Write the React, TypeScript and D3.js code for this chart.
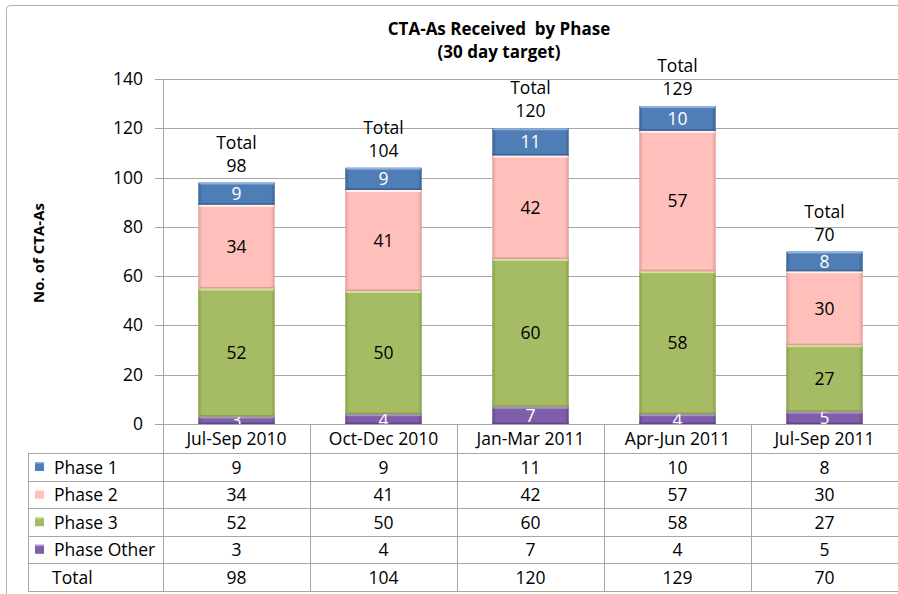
import React from 'react';
import * as d3 from 'd3';

const categories = ['Jul-Sep 2010', 'Oct-Dec 2010', 'Jan-Mar 2011', 'Apr-Jun 2011', 'Jul-Sep 2011'];
const seriesNames = ['Phase 1', 'Phase 2', 'Phase 3', 'Phase Other'];
const phase1 = [9, 9, 11, 10, 8];
const phase2 = [34, 41, 42, 57, 30];
const phase3 = [52, 50, 60, 58, 27];
const phaseOther = [3, 4, 7, 4, 5];
const totals = [98, 104, 120, 129, 70];
const yTicks = [0, 20, 40, 60, 80, 100, 120, 140];

const colors = {
  'Phase 1': { base: '#4f7db5', dark: '#3a6294', light: '#8fb0d8', label: '#ffffff' },
  'Phase 2': { base: '#ffbfba', dark: '#e09c97', light: '#fff4f3', label: '#000000' },
  'Phase 3': { base: '#a6bc64', dark: '#86a04a', light: '#d2e39a', label: '#000000' },
  'Phase Other': { base: '#7f5faa', dark: '#62468c', light: '#a98fd0', label: '#ffffff' },
};

const FONT = '"Open Sans", Lato, sans-serif';
const FS = 17.5;

export default function App() {
  const width = 898;
  const height = 594;
  const left = 163;
  const right = 898;
  const top = 79;
  const bottom = 424;

  const x = d3.scaleBand().domain(categories).range([left, right]).paddingInner(0.48).paddingOuter(0.24);
  const y = d3.scaleLinear().domain([0, 140]).range([bottom, top]);
  const step = x.step();

  // stack from bottom: Phase Other, Phase 3, Phase 2, Phase 1
  const rows = categories.map((c, i) => ({
    cat: c,
    'Phase 1': phase1[i],
    'Phase 2': phase2[i],
    'Phase 3': phase3[i],
    'Phase Other': phaseOther[i],
  }));
  const stack = d3.stack().keys(['Phase Other', 'Phase 3', 'Phase 2', 'Phase 1']);
  const layers = stack(rows as any);

  const tableRows = [
    { name: 'Phase 1', vals: phase1 },
    { name: 'Phase 2', vals: phase2 },
    { name: 'Phase 3', vals: phase3 },
    { name: 'Phase Other', vals: phaseOther },
    { name: 'Total', vals: totals },
  ];
  const headerTop = bottom;
  const headerBottom = 453;
  const rowH = 27.6;
  const tableLeft = 28;
  const tableBottom = headerBottom + rowH * tableRows.length;
  const lineColor = '#a6a6a6';

  return (
    <svg width={width} height={height} style={{ position: 'absolute', left: 0, top: 0, background: '#fff' }}>
      <defs>
        {seriesNames.map((s, k) => (
          <linearGradient key={s} id={`g${k}`} x1="0" x2="1" y1="0" y2="0">
            <stop offset="0" stopColor={colors[s].dark} />
            <stop offset="0.05" stopColor={colors[s].base} />
            <stop offset="0.95" stopColor={colors[s].base} />
            <stop offset="1" stopColor={colors[s].dark} />
          </linearGradient>
        ))}
        <clipPath id="plotClip">
          <rect x={left} y={0} width={right - left} height={bottom} />
        </clipPath>
      </defs>

      {/* outer frame */}
      <rect x={6.5} y={5.5} width={905} height={600} rx={4} fill="#fff" stroke="#b4b4b4" />

      {/* title */}
      <text x={499} y={35} textAnchor="middle" fontFamily={FONT} fontWeight="bold" fontSize={17} style={{ whiteSpace: 'pre' }}>
        {'CTA-As Received  by Phase'}
      </text>
      <text x={499} y={58} textAnchor="middle" fontFamily={FONT} fontWeight="bold" fontSize={17}>
        (30 day target)
      </text>

      {/* y axis title */}
      <text
        transform={`translate(44,253) rotate(-90)`}
        textAnchor="middle"
        fontFamily={FONT}
        fontWeight="bold"
        fontSize={15}
      >
        No. of CTA-As
      </text>

      {/* gridlines and ticks */}
      {yTicks.map((t) => (
        <g key={t}>
          <line x1={left - 8} x2={right} y1={Math.round(y(t)) + 0.5} y2={Math.round(y(t)) + 0.5} stroke={lineColor} />
          <text x={143} y={y(t) + 6} textAnchor="end" fontFamily={FONT} fontSize={FS}>
            {t}
          </text>
        </g>
      ))}
      <line x1={left + 0.5} x2={left + 0.5} y1={top} y2={tableBottom} stroke={lineColor} />

      {/* bars */}
      <g clipPath="url(#plotClip)">
        {layers.map((layer) => {
          const s = layer.key;
          const k = seriesNames.indexOf(s);
          return (
            <g key={s}>
              {layer.map((d, i) => {
                const bx = x(categories[i]) as number;
                const bw = x.bandwidth();
                const y0 = y(d[1]);
                const y1 = y(d[0]);
                const v = d[1] - d[0];
                return (
                  <g key={i}>
                    <rect x={bx} y={y0} width={bw} height={y1 - y0} fill={`url(#g${k})`} />
                    <rect x={bx + 1} y={y0} width={bw - 2} height={2} fill={colors[s].light} />
                    <rect x={bx} y={y1 - 1.5} width={bw} height={1.5} fill={colors[s].dark} />
                    <text
                      x={bx + bw / 2}
                      y={(y0 + y1) / 2 + 6.5}
                      textAnchor="middle"
                      fontFamily={FONT}
                      fontSize={FS}
                      fill={colors[s].label}
                    >
                      {v}
                    </text>
                  </g>
                );
              })}
            </g>
          );
        })}
      </g>

      {/* total labels */}
      {categories.map((c, i) => {
        const cx = (x(c) as number) + x.bandwidth() / 2;
        const ty = y(totals[i]);
        return (
          <g key={c} fontFamily={FONT} fontSize={FS} textAnchor="middle">
            <text x={cx} y={ty - 34}>Total</text>
            <text x={cx} y={ty - 11}>{totals[i]}</text>
          </g>
        );
      })}

      {/* data table */}
      <g fontFamily={FONT} fontSize={FS}>
        {categories.map((c, i) => {
          const x0 = left + step * i;
          return (
            <g key={c}>
              <line x1={x0 + step + 0.5} x2={x0 + step + 0.5} y1={headerTop} y2={tableBottom} stroke={lineColor} />
              <text x={x0 + step / 2} y={headerTop + 21} textAnchor="middle">
                {c}
              </text>
            </g>
          );
        })}
        <line x1={left} x2={right} y1={headerTop + 0.5} y2={headerTop + 0.5} stroke={lineColor} />
        <line x1={tableLeft + 0.5} x2={tableLeft + 0.5} y1={headerBottom} y2={tableBottom} stroke={lineColor} />
        {tableRows.map((r, j) => {
          const ry = headerBottom + rowH * j;
          const isLegend = j < seriesNames.length;
          return (
            <g key={r.name}>
              <line x1={tableLeft} x2={right} y1={Math.round(ry) + 0.5} y2={Math.round(ry) + 0.5} stroke={lineColor} />
              {isLegend && (
                <g>
                  <rect x={35} y={ry + 9} width={9} height={9} fill={`url(#g${j})`} />
                  <rect x={35} y={ry + 9} width={9} height={1.5} fill={colors[r.name].light} />
                </g>
              )}
              <text x={isLegend ? 54 : 52} y={ry + 20.5}>
                {r.name}
              </text>
              {r.vals.map((v, i) => (
                <text key={i} x={left + step * i + step / 2} y={ry + 20.5} textAnchor="middle">
                  {v}
                </text>
              ))}
            </g>
          );
        })}
        <line x1={tableLeft} x2={right} y1={Math.round(tableBottom) + 0.5} y2={Math.round(tableBottom) + 0.5} stroke={lineColor} />
      </g>
    </svg>
  );
}
